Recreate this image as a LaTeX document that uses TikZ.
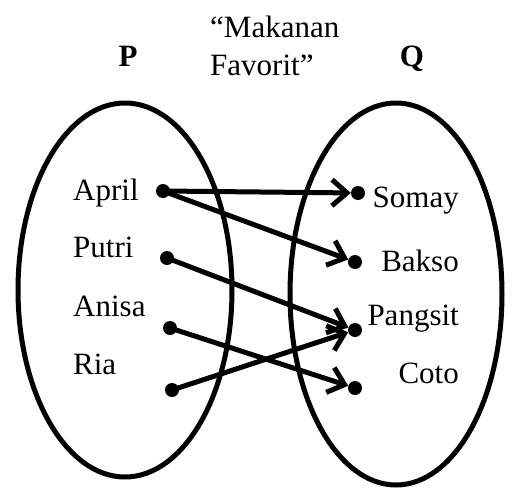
\documentclass[tikz,border=0pt]{standalone}
\usepackage{fontspec}
\setmainfont{Liberation Serif}
\usetikzlibrary{arrows.meta}

\begin{document}
\begin{tikzpicture}[x=1pt, y=-1pt, font=\fontsize{31}{38}\selectfont,
  dot/.style={circle, fill, inner sep=0pt, minimum size=14pt},
  panah/.style={line width=5pt, -{Straight Barb[length=15pt, width=26pt]}}]
\useasboundingbox (0,0) rectangle (523,488);
\draw[line width=5pt] (125,290) ellipse [x radius=107pt, y radius=187pt];
\draw[line width=5pt] (396,294) ellipse [x radius=106pt, y radius=191pt];
\node[font=\fontsize{31}{38}\selectfont\bfseries, anchor=base] (P) at (128,66) {P};
\node[font=\fontsize{31}{38}\selectfont\bfseries, anchor=base] (Q) at (412,66) {Q};
\node[anchor=base west, align=left, inner sep=0pt] (judul) at (210,75) {“Makanan\\Favorit”};
\foreach \nm/\txt/\y in {ap/April/200, pu/Putri/257, an/Anisa/316, ri/Ria/374} {
    \node[anchor=base west, inner sep=0pt] (l\nm) at (73,\y) {\txt};
}
\foreach \nm/\txt/\y in {so/Somay/207, ba/Bakso/271, pa/Pangsit/325, co/Coto/383} {
    \node[anchor=base east, inner sep=0pt] (l\nm) at (459,\y) {\txt};
}
\foreach \nm/\x/\y in {ap/163/191, pu/167/258, an/170/328, ri/172/390, so/358/193, ba/355/262, pa/355/330, co/355/388} {
    \node[dot] (\nm) at (\x,\y) {};
}
\foreach \a/\b in {ap/so, ap/ba, pu/pa, an/co, ri/pa} {
    \draw[panah] (\a.center) -- (\b);
}
\end{tikzpicture}
\end{document}
